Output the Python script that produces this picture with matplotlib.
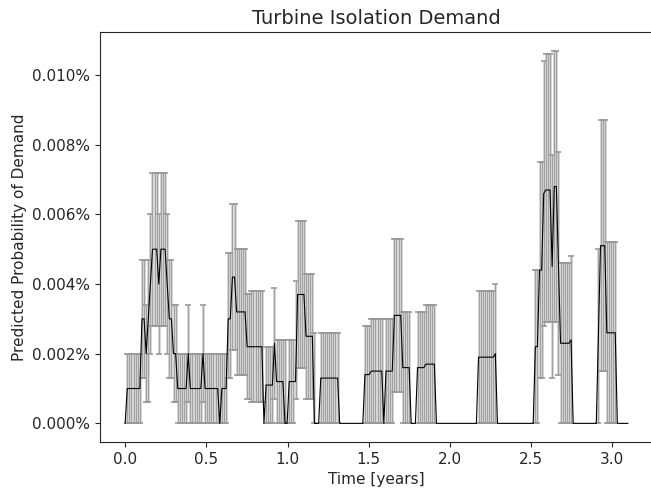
import numpy as np
import matplotlib
matplotlib.use("Agg")
import matplotlib.pyplot as plt
from matplotlib.ticker import PercentFormatter

# demand estimate per sample, stored as runs (length, mean, lower, upper)
# values in units of 1e-5 (= 0.001 %); upper == 0 -> no error bar drawn
run_len = [1, 7, 2, 1, 1, 1, 3, 1, 3, 1, 2, 2, 5, 1, 6, 1, 7, 1, 3, 2,
           2, 5, 2, 6, 1, 4, 1, 4, 1, 1, 3, 1, 4, 4, 1, 2, 9, 12, 3, 6,
           1, 4, 4, 4, 3, 4, 5, 20, 8, 1, 18, 2, 2, 1, 3, 1, 2, 1, 5, 1,
           12, 1, 3, 5, 6]
run_mean = [0, 1.0, 3.0, 2.0, 3.0, 4.0, 5.0, 4.0, 5.0, 4.0, 3.0, 2.0, 1.0, 2.0, 1.0, 2.0, 1.0, 0, 1.0, 3.0,
            4.2, 3.2, 2.2, 2.2, 0, 1.1, 2.3, 1.2, 0, 0, 1.2, 1.2, 3.7, 2.5, 0, 0, 1.3, 0, 1.4, 1.5,
            0, 1.5, 3.1, 1.6, 0, 1.6, 1.7, 0, 1.9, 2.0, 0, 2.2, 4.4, 6.6, 6.7, 4.5, 6.8, 4.6, 2.3, 2.4,
            0, 2.5, 5.1, 2.6, 0]
run_lo = [0, 0, 1.3, 0.6, 0.6, 2.0, 2.8, 2.0, 2.8, 2.0, 1.3, 0.6, 0, 0.6, 0, 0.6, 0, 0, 0, 1.3,
          2.1, 1.4, 0.7, 0.6, 0, 0, 0.7, 0, 0, 0, 0, 0.7, 1.6, 0.7, 0, 0, 0, 0, 0, 0,
          0, 0, 0.9, 0, 0, 0, 0, 0, 0, 0, 0, 0, 1.3, 2.8, 2.9, 1.3, 2.9, 1.4, 0, 0,
          0, 0, 1.5, 0, 0]
run_hi = [0, 2.0, 4.7, 3.4, 4.7, 6.0, 7.2, 6.0, 7.2, 6.0, 4.7, 3.4, 2.0, 3.4, 2.0, 3.4, 2.0, 2.0, 2.0, 4.9,
          6.3, 5.0, 3.7, 3.8, 0, 2.2, 3.9, 2.4, 2.4, 0, 2.4, 4.1, 5.8, 4.3, 2.6, 0, 2.6, 0, 2.8, 3.0,
          0, 3.0, 5.3, 3.2, 0, 3.2, 3.4, 0, 3.8, 4.0, 0, 4.4, 7.5, 10.4, 10.6, 7.7, 10.7, 7.8, 4.6, 4.8,
          0, 5.0, 8.7, 5.2, 0]

dt = 0.01295  # sample spacing in years

mean = np.repeat(run_mean, run_len) * 1e-5   # 1 unit = 0.001 %
lo = np.repeat(run_lo, run_len) * 1e-5
hi = np.repeat(run_hi, run_len) * 1e-5
t = np.arange(len(mean)) * dt

plt.rcParams['font.family'] = 'DejaVu Sans'
plt.rcParams['text.color'] = '0.15'
plt.rcParams['axes.labelcolor'] = '0.15'
plt.rcParams['xtick.color'] = '0.15'
plt.rcParams['ytick.color'] = '0.15'

fig = plt.figure(figsize=(6.51, 4.95), dpi=100)
ax = fig.add_axes([100 / 651, 53 / 495, 553 / 651, 410 / 495])

m = hi > 0
yerr = [mean[m] - lo[m], hi[m] - mean[m]]
# light body of each bar, then a darker thin core to get the striped look
ax.errorbar(t[m], mean[m], yerr=yerr, fmt='none',
            ecolor='0.82', elinewidth=2.0, capsize=0)
ax.errorbar(t[m], mean[m], yerr=yerr, fmt='none',
            ecolor='0.6', elinewidth=0.6, capsize=2, capthick=1.2)
ax.plot(t, mean, color='black', lw=0.8)

ax.yaxis.set_major_formatter(PercentFormatter(xmax=1, decimals=3))
ax.set_title("Turbine Isolation Demand", fontsize=14)
ax.set_xlabel("Time [years]", fontsize=11)
ax.set_ylabel("Predicted Probability of Demand", fontsize=11)
ax.tick_params(labelsize=11)
for s in ax.spines.values():
    s.set_color('0.15')

plt.savefig('out.png', dpi=100)
